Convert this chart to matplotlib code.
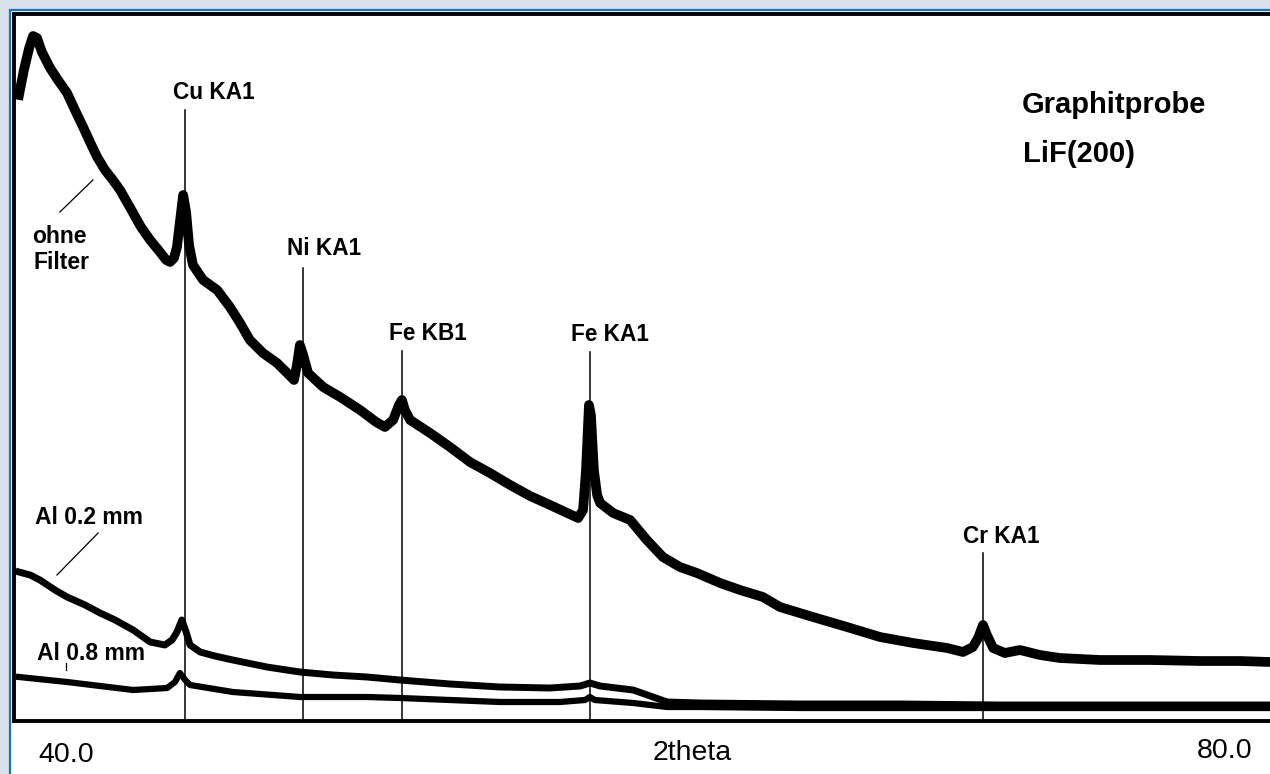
import matplotlib
matplotlib.use("Agg")
import matplotlib.pyplot as plt
from matplotlib.patches import Rectangle

plt.rcParams['font.family'] = ['Liberation Sans', 'DejaVu Sans']

# 2theta (deg) and intensity (arbitrary units)
ohne_x = [40.00, 40.15, 40.31, 40.43, 40.55, 40.70, 40.95, 41.19, 41.47, 41.71,
          41.96, 42.17, 42.39, 42.63, 42.87, 43.09, 43.30, 43.49, 43.73, 44.01,
          44.31, 44.50, 44.62, 44.74, 44.83, 44.92, 45.02, 45.11, 45.20, 45.32,
          45.63, 46.06, 46.45, 46.76, 47.06, 47.46, 47.89, 48.20, 48.41, 48.50,
          48.59, 48.69, 48.84, 49.30, 49.82, 50.43, 50.92, 51.19, 51.44, 51.62,
          51.71, 51.80, 51.96, 52.57, 53.18, 53.79, 54.40, 55.02, 55.63, 56.24,
          56.70, 57.10, 57.25, 57.34, 57.43, 57.49, 57.58, 57.68, 57.77, 58.17,
          58.69, 59.20, 59.69, 60.21, 60.73, 61.44, 62.05, 62.75, 63.27, 64.28,
          65.32, 66.33, 67.34, 68.38, 68.87, 69.17, 69.33, 69.48, 69.60, 69.79,
          70.15, 70.61, 71.22, 71.83, 73.06, 74.59, 76.12, 77.34, 78.26]
ohne_y = [623, 648, 670, 682, 680, 666, 650, 638, 625, 608,
          591, 576, 561, 548, 538, 528, 516, 505, 491, 478,
          466, 458, 456, 460, 471, 496, 523, 506, 473, 453,
          438, 428, 411, 395, 378, 365, 355, 345, 338, 353,
          373, 363, 345, 331, 321, 308, 296, 291, 298, 313,
          318, 308, 298, 285, 271, 256, 245, 233, 222, 213,
          206, 200, 208, 248, 313, 303, 248, 223, 215, 205,
          198, 178, 161, 151, 145, 135, 128, 121, 111, 101,
          91, 81, 75, 70, 66, 71, 80, 93, 83, 70,
          65, 68, 63, 60, 58, 58, 57, 57, 56]

al02_x = [40.00, 40.34, 40.64, 41.10, 41.47, 42.02, 42.48, 42.94, 43.49, 44.01,
          44.46, 44.68, 44.83, 44.98, 45.11, 45.23, 45.54, 45.99, 46.54, 47.58,
          48.59, 49.60, 50.64, 51.65, 53.18, 54.71, 56.24, 57.16, 57.46, 57.77,
          58.78, 59.39, 59.82, 60.83, 63.88, 66.94, 70.00, 73.06, 76.12, 78.26]
al02_y = [146, 143, 138, 128, 121, 113, 105, 98, 88, 76,
          73, 78, 86, 98, 86, 73, 66, 62, 58, 51,
          46, 43, 41, 38, 34, 31, 30, 32, 35, 32,
          28, 21, 16, 15, 14, 14, 13, 13, 13, 13]

al08_x = [40.00, 41.47, 42.48, 43.49, 44.53, 44.77, 44.92, 45.08, 45.23, 46.54,
          48.59, 50.64, 51.65, 53.18, 54.71, 56.54, 57.31, 57.46, 57.61, 58.78,
          59.82, 60.83, 63.88, 66.94, 70.00, 73.06, 76.12, 78.26]
al08_y = [41, 36, 32, 28, 30, 36, 45, 38, 33, 26,
          21, 21, 20, 18, 16, 16, 18, 21, 18, 15,
          11, 11, 10, 10, 10, 10, 10, 10]

lines = ['Cu KA1', 'Ni KA1', 'Fe KB1', 'Fe KA1', 'Cr KA1']
line_pos = [45.08, 48.69, 51.71, 57.46, 69.48]
line_top = [608, 450, 367, 366, 165]
label_x = [44.71, 48.20, 51.31, 56.88, 68.87]
label_y = [619, 463, 378, 377, 175]

W, H = 1270, 774
fig = plt.figure(figsize=(W / 100, H / 100), dpi=100, facecolor='#d8e2ea')

# white panel with thin blue border at left/top
fig.patches.append(Rectangle((10 / W, -0.1), 1.2, 1 - 10 / H + 0.1,
                             transform=fig.transFigure, facecolor='white',
                             edgecolor='#1f6fbf', linewidth=1.6, zorder=-5))

ax = fig.add_axes([14 / W, 1 - 720.5 / H, 1 - 14 / W, (720.5 - 14) / H])
ax.set_xlim(39.847, 78.257)
ax.set_ylim(-2.5, 704)
ax.set_xticks([])
ax.set_yticks([])
for side in ['left', 'top', 'bottom']:
    ax.spines[side].set_linewidth(2.8)
    ax.spines[side].set_color('black')
ax.spines['right'].set_visible(False)

ax.plot(ohne_x, ohne_y, color='black', lw=7, solid_joinstyle='round', zorder=3)
ax.plot(al02_x, al02_y, color='black', lw=5, solid_joinstyle='round', zorder=3)
ax.plot(al08_x, al08_y, color='black', lw=4.5, solid_joinstyle='round', zorder=3)

for name, xp, top, tx, ty in zip(lines, line_pos, line_top, label_x, label_y):
    ax.plot([xp, xp], [-4, top], color='black', lw=1.1, zorder=4, clip_on=False)
    ax.text(tx, ty, name, fontsize=16.3, fontweight='bold', va='baseline', ha='left')

lbl = dict(fontsize=16.5, fontweight='bold', va='baseline', ha='left', zorder=2)
ax.text(40.40, 475, 'ohne', **lbl)
ax.text(40.43, 449, 'Filter', **lbl)
ax.plot([41.25, 42.26], [506, 538], color='black', lw=0.9)
ax.text(40.49, 194, 'Al 0.2 mm', **lbl)
ax.plot([41.16, 42.42], [143, 185], color='black', lw=0.9)
ax.text(40.55, 58, 'Al 0.8 mm', **lbl)
ax.plot([41.44, 41.44], [48, 55], color='black', lw=0.9)

ax.text(70.67, 605, 'Graphitprobe', fontsize=21, fontweight='bold', va='baseline')
ax.text(70.70, 556, 'LiF(200)', fontsize=21, fontweight='bold', va='baseline')

fig.text(38 / W, 1 - 762 / H, '40.0', fontsize=20.5, va='baseline', ha='left')
fig.text(692 / W, 1 - 760 / H, '2theta', fontsize=20.5, va='baseline', ha='center')
fig.text(1252 / W, 1 - 758 / H, '80.0', fontsize=20.5, va='baseline', ha='right')

fig.savefig('out.png', dpi=100, facecolor=fig.get_facecolor())
